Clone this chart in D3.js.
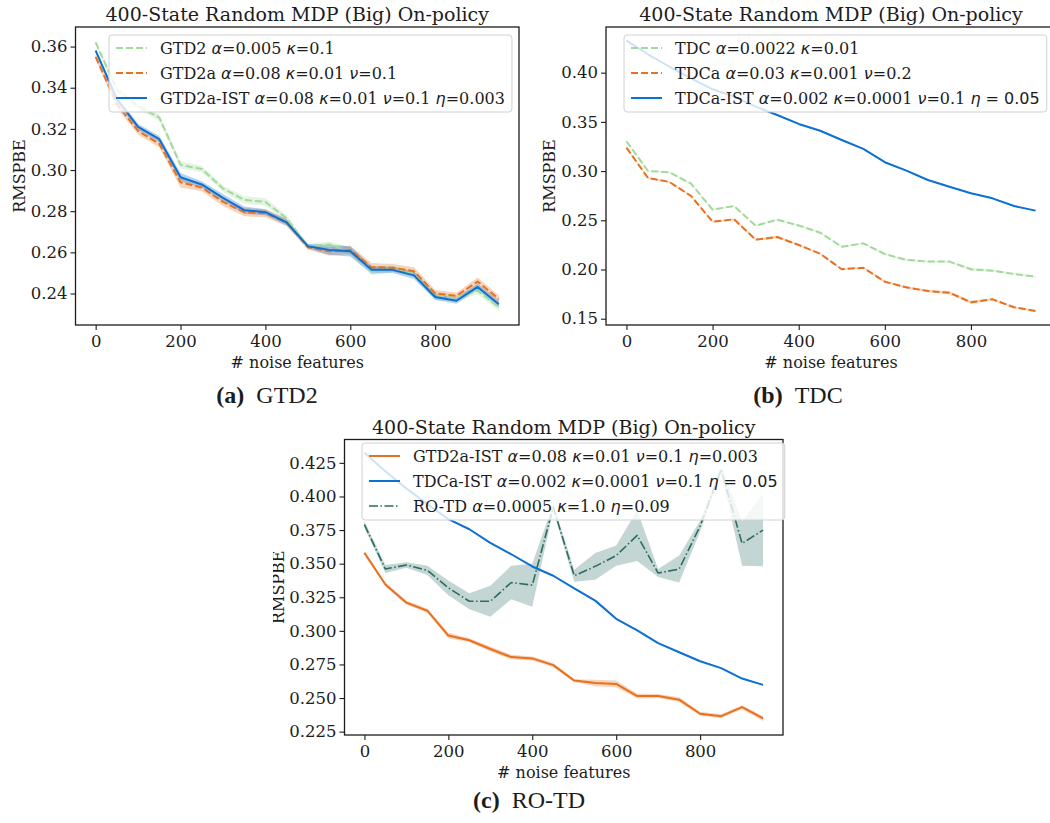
<!DOCTYPE html>
<html>
<head>
<meta charset="utf-8">
<script src="https://cdn.jsdelivr.net/npm/d3@7"></script>
<style>
  body { margin: 0; background: #fff; }
  svg { display: block; }
</style>
</head>
<body>
<svg id="fig" width="1050" height="823"></svg>
<script>
// ---------- data ----------
const noiseFeatures = [0, 50, 100, 150, 200, 250, 300, 350, 400, 450, 500, 550, 600, 650, 700, 750, 800, 850, 900, 950];

// (a) GTD2 family
const gtd2Mean    = [0.362, 0.339, 0.331, 0.3255, 0.3025, 0.3005, 0.291, 0.2855, 0.2845, 0.2765, 0.263, 0.2638, 0.2605, 0.251, 0.252, 0.2495, 0.239, 0.2377, 0.2414, 0.2333];
const gtd2Err     = [0.001, 0.0015, 0.0015, 0.0015, 0.0018, 0.0015, 0.0015, 0.0018, 0.0018, 0.0015, 0.0012, 0.0015, 0.002, 0.002, 0.0015, 0.0015, 0.002, 0.0015, 0.0018, 0.0018];
const gtd2aMean   = [0.355, 0.332, 0.319, 0.3127, 0.294, 0.2915, 0.2845, 0.2795, 0.279, 0.2745, 0.2625, 0.2605, 0.2612, 0.2528, 0.2525, 0.2508, 0.24, 0.2389, 0.2458, 0.2373];
const gtd2aErr    = [0.0012, 0.0018, 0.0018, 0.0018, 0.0025, 0.0018, 0.002, 0.002, 0.002, 0.0018, 0.0012, 0.002, 0.002, 0.002, 0.0018, 0.002, 0.0018, 0.0015, 0.002, 0.0018];
const gtd2aIstMean = [0.358, 0.3345, 0.321, 0.315, 0.2965, 0.293, 0.2865, 0.2805, 0.2795, 0.2745, 0.263, 0.2612, 0.2605, 0.2515, 0.2515, 0.2488, 0.2383, 0.2365, 0.2432, 0.2348];
const gtd2aIstErr  = [0.001, 0.0015, 0.0015, 0.0015, 0.002, 0.0015, 0.0018, 0.0018, 0.0015, 0.0015, 0.001, 0.0025, 0.0025, 0.0018, 0.0015, 0.0018, 0.0015, 0.0015, 0.0015, 0.0018];

// (b) TDC family
const tdcMean     = [0.3303, 0.3001, 0.2988, 0.2872, 0.2608, 0.2645, 0.2445, 0.2506, 0.2447, 0.2374, 0.2232, 0.2266, 0.2157, 0.2097, 0.208, 0.208, 0.2002, 0.1988, 0.1954, 0.1927];
const tdcErr      = [0.0008, 0.0008, 0.0008, 0.0008, 0.0008, 0.0008, 0.0008, 0.0008, 0.0008, 0.0008, 0.0008, 0.0008, 0.001, 0.001, 0.001, 0.0012, 0.0015, 0.001, 0.001, 0.001];
const tdcaMean    = [0.3238, 0.293, 0.2889, 0.2747, 0.2486, 0.251, 0.2303, 0.233, 0.2249, 0.216, 0.2002, 0.2018, 0.1876, 0.1819, 0.1781, 0.1764, 0.1667, 0.1697, 0.1616, 0.1578];
const tdcaErr     = [0.0008, 0.0008, 0.0008, 0.0008, 0.0008, 0.0008, 0.0012, 0.0012, 0.0008, 0.0008, 0.0008, 0.0008, 0.001, 0.0012, 0.0012, 0.0015, 0.0015, 0.001, 0.001, 0.001];
const tdcaIstMean = [0.4325, 0.4187, 0.406, 0.3943, 0.3831, 0.3756, 0.3655, 0.357, 0.3479, 0.341, 0.3316, 0.3225, 0.309, 0.3004, 0.2909, 0.2841, 0.2774, 0.2723, 0.2645, 0.2598];
const tdcaIstErr  = [0.0004, 0.0004, 0.0004, 0.0004, 0.0004, 0.0004, 0.0004, 0.0004, 0.0004, 0.0004, 0.0004, 0.0004, 0.0004, 0.0004, 0.0004, 0.0004, 0.0004, 0.0004, 0.0004, 0.0004];

// (c) RO-TD
const rotdMean    = [0.379, 0.346, 0.349, 0.345, 0.332, 0.322, 0.322, 0.336, 0.334, 0.392, 0.341, 0.348, 0.356, 0.371, 0.343, 0.346, 0.378, 0.42, 0.365, 0.375];
const rotdErr     = [0.0025, 0.003, 0.002, 0.0035, 0.0055, 0.006, 0.0115, 0.0125, 0.016, 0.0025, 0.0045, 0.01, 0.0075, 0.019, 0.003, 0.01, 0.004, 0.0025, 0.0165, 0.027];

// ticks
const xTicks  = [0, 200, 400, 600, 800];
const yTicksA = [0.24, 0.26, 0.28, 0.30, 0.32, 0.34, 0.36];
const yTicksB = [0.15, 0.20, 0.25, 0.30, 0.35, 0.40];
const yTicksC = [0.225, 0.250, 0.275, 0.300, 0.325, 0.350, 0.375, 0.400, 0.425];

// text
const plotTitle = "400-State Random MDP (Big) On-policy";
const xLabel = "# noise features";
const yLabel = "RMSPBE";
const labelsA = ["GTD2 α=0.005 κ=0.1", "GTD2a α=0.08 κ=0.01 ν=0.1", "GTD2a-IST α=0.08 κ=0.01 ν=0.1 η=0.003"];
const labelsB = ["TDC α=0.0022 κ=0.01", "TDCa α=0.03 κ=0.001 ν=0.2", "TDCa-IST α=0.002 κ=0.0001 ν=0.1 {η = 0.05}"];
const labelsC = ["GTD2a-IST α=0.08 κ=0.01 ν=0.1 η=0.003", "TDCa-IST α=0.002 κ=0.0001 ν=0.1 {η = 0.05}", "RO-TD α=0.0005 κ=1.0 η=0.09"];
const captions = [["(a)", "GTD2"], ["(b)", "TDC"], ["(c)", "RO-TD"]];

// ---------- styling ----------
const C_GREEN = "#a3d99c", C_ORANGE = "#e8701f", C_BLUE = "#0b6fd3", C_TEAL = "#2b6c62";
const SERIF = "'DejaVu Serif', serif";
const MATH = "'DejaVu Sans', sans-serif";
const INK = "#1c1c1c";

const svg = d3.select("#fig");

function richText(sel, str) {
  const parts = str.split(/(\{[^}]*\}|[ακνη])/).filter(s => s.length);
  parts.forEach(p => {
    if (p.startsWith("{")) {
      const inner = p.slice(1, -1);
      inner.split(/([ακνη])/).filter(s => s.length).forEach(q => {
        const t = sel.append("tspan").attr("font-family", MATH).text(q);
        if (/[ακνη]/.test(q)) t.attr("font-style", "italic");
      });
    } else if (/^[ακνη]$/.test(p)) {
      sel.append("tspan").attr("font-family", MATH).attr("font-style", "italic").text(p);
    } else {
      sel.append("tspan").attr("font-family", SERIF).text(p);
    }
  });
}

let clipId = 0;
function drawPanel(p) {
  const g = svg.append("g");
  const x = d3.scaleLinear().domain([-47.5, 997.5]).range([p.left, p.right]);
  const y = d3.scaleLinear().domain(p.yDomain).range([p.bottom, p.top]);

  const cid = "clip" + (clipId++);
  g.append("clipPath").attr("id", cid).append("rect")
    .attr("x", p.left).attr("y", p.top).attr("width", p.right - p.left).attr("height", p.bottom - p.top);
  const plot = g.append("g").attr("clip-path", `url(#${cid})`);

  p.series.forEach(s => {
    const pts = noiseFeatures.map((f, i) => ({ f, m: s.mean[i], e: s.err[i] }));
    plot.append("path").datum(pts)
      .attr("fill", s.color).attr("fill-opacity", s.bandOpacity || 0.3)
      .attr("d", d3.area().x(d => x(d.f)).y0(d => y(d.m - d.e)).y1(d => y(d.m + d.e)));
  });
  p.series.forEach(s => {
    const pts = noiseFeatures.map((f, i) => ({ f, m: s.mean[i] }));
    plot.append("path").datum(pts)
      .attr("fill", "none").attr("stroke", s.color).attr("stroke-width", s.width || 2)
      .attr("stroke-dasharray", s.dash || null).attr("stroke-linejoin", "round")
      .attr("d", d3.line().x(d => x(d.f)).y(d => y(d.m)));
  });

  // axes
  const xa = g.append("g").attr("transform", `translate(0,${p.bottom})`)
    .call(d3.axisBottom(x).tickValues(xTicks).tickFormat(d3.format("d")).tickSize(5).tickPadding(5));
  const ya = g.append("g").attr("transform", `translate(${p.left},0)`)
    .call(d3.axisLeft(y).tickValues(p.yTicks).tickFormat(d3.format(p.yFmt)).tickSize(5).tickPadding(3));
  [xa, ya].forEach(a => {
    a.select(".domain").remove();
    a.selectAll(".tick line").attr("stroke", INK).attr("stroke-width", 1.1);
    a.selectAll(".tick text").attr("font-family", SERIF).attr("font-size", 16.5).attr("fill", INK);
  });

  // frame
  g.append("rect").attr("x", p.left).attr("y", p.top)
    .attr("width", p.right - p.left).attr("height", p.bottom - p.top)
    .attr("fill", "none").attr("stroke", INK).attr("stroke-width", 1.3);

  // title and labels
  g.append("text").attr("x", (p.left + p.right) / 2).attr("y", p.top - 6)
    .attr("text-anchor", "middle").attr("font-family", SERIF).attr("font-size", 19).attr("fill", INK)
    .text(plotTitle);
  g.append("text").attr("x", (p.left + p.right) / 2).attr("y", p.bottom + 43)
    .attr("text-anchor", "middle").attr("font-family", SERIF).attr("font-size", 16).attr("fill", INK)
    .text(xLabel);
  const ylg = g.append("g");
  if (p.yLabelClipX) {
    const lc = "clip" + (clipId++);
    g.append("clipPath").attr("id", lc).append("rect")
      .attr("x", p.yLabelClipX).attr("y", 0).attr("width", 200).attr("height", 823);
    ylg.attr("clip-path", `url(#${lc})`);
  }
  ylg.append("text")
    .attr("transform", `translate(${p.left - p.yLabelOffset},${(p.top + p.bottom) / 2}) rotate(-90)`)
    .attr("text-anchor", "middle").attr("font-family", SERIF).attr("font-size", 16).attr("fill", INK)
    .text(yLabel);

  // legend
  const fs = 16;
  const lg = g.append("g");
  const box = lg.append("rect").attr("rx", 3).attr("ry", 3)
    .attr("fill", "#fff").attr("fill-opacity", 0.8).attr("stroke", "#d0d0d0").attr("stroke-width", 1);
  let maxW = 0;
  const hx0 = p.legend.x + 7, hx1 = hx0 + 31, tx = hx1 + 13;
  p.series.forEach((s, i) => {
    const cy = p.legend.y + 13 + i * 25;
    lg.append("line").attr("x1", hx0).attr("x2", hx1).attr("y1", cy).attr("y2", cy)
      .attr("stroke", s.color).attr("stroke-width", s.width || 2).attr("stroke-dasharray", s.dash || null);
    const t = lg.append("text").attr("x", tx).attr("y", cy + 5.5).attr("font-size", fs).attr("fill", INK);
    richText(t, s.label);
    maxW = Math.max(maxW, t.node().getComputedTextLength());
  });
  box.attr("x", p.legend.x).attr("y", p.legend.y)
    .attr("width", tx - p.legend.x + maxW + 7).attr("height", 3 * 25 + 2);
}

drawPanel({
  left: 75.5, right: 519, top: 27, bottom: 325, yDomain: [0.2247, 0.3695],
  yTicks: yTicksA, yFmt: ".2f", yLabelOffset: 51,
  legend: { x: 109, y: 35 },
  series: [
    { mean: gtd2Mean, err: gtd2Err, color: C_GREEN, dash: "7,3", label: labelsA[0] },
    { mean: gtd2aMean, err: gtd2aErr, color: C_ORANGE, dash: "7,3", label: labelsA[1] },
    { mean: gtd2aIstMean, err: gtd2aIstErr, color: C_BLUE, label: labelsA[2] }
  ]
});

drawPanel({
  left: 606, right: 1056, top: 27, bottom: 325, yDomain: [0.1436, 0.4464],
  yTicks: yTicksB, yFmt: ".2f", yLabelOffset: 51,
  legend: { x: 624, y: 35 },
  series: [
    { mean: tdcMean, err: tdcErr, color: C_GREEN, dash: "7,3", label: labelsB[0] },
    { mean: tdcaMean, err: tdcaErr, color: C_ORANGE, dash: "7,3", label: labelsB[1] },
    { mean: tdcaIstMean, err: tdcaIstErr, color: C_BLUE, label: labelsB[2] }
  ]
});

drawPanel({
  left: 344.5, right: 783, top: 439.5, bottom: 735, yDomain: [0.2225, 0.4424],
  yTicks: yTicksC, yFmt: ".3f", yLabelOffset: 61, yLabelClipX: 273,
  legend: { x: 362, y: 443 },
  series: [
    { mean: gtd2aIstMean, err: gtd2aIstErr, color: C_ORANGE, label: labelsC[0] },
    { mean: tdcaIstMean, err: tdcaIstErr, color: C_BLUE, label: labelsC[1] },
    { mean: rotdMean, err: rotdErr, color: C_TEAL, dash: "9,2.5,1.5,2.5", width: 1.6, bandOpacity: 0.28, label: labelsC[2] }
  ]
});

// sub-figure captions
const capPos = [[267, 403], [798, 403], [529, 808]];
captions.forEach((c, i) => {
  const t = svg.append("text").attr("x", capPos[i][0]).attr("y", capPos[i][1])
    .attr("text-anchor", "middle").attr("font-family", "'Liberation Serif', serif")
    .attr("font-size", 24).attr("fill", INK);
  t.append("tspan").attr("font-weight", "bold").text(c[0]);
  t.append("tspan").text("\u2002" + c[1]);
});
</script>
</body>
</html>
